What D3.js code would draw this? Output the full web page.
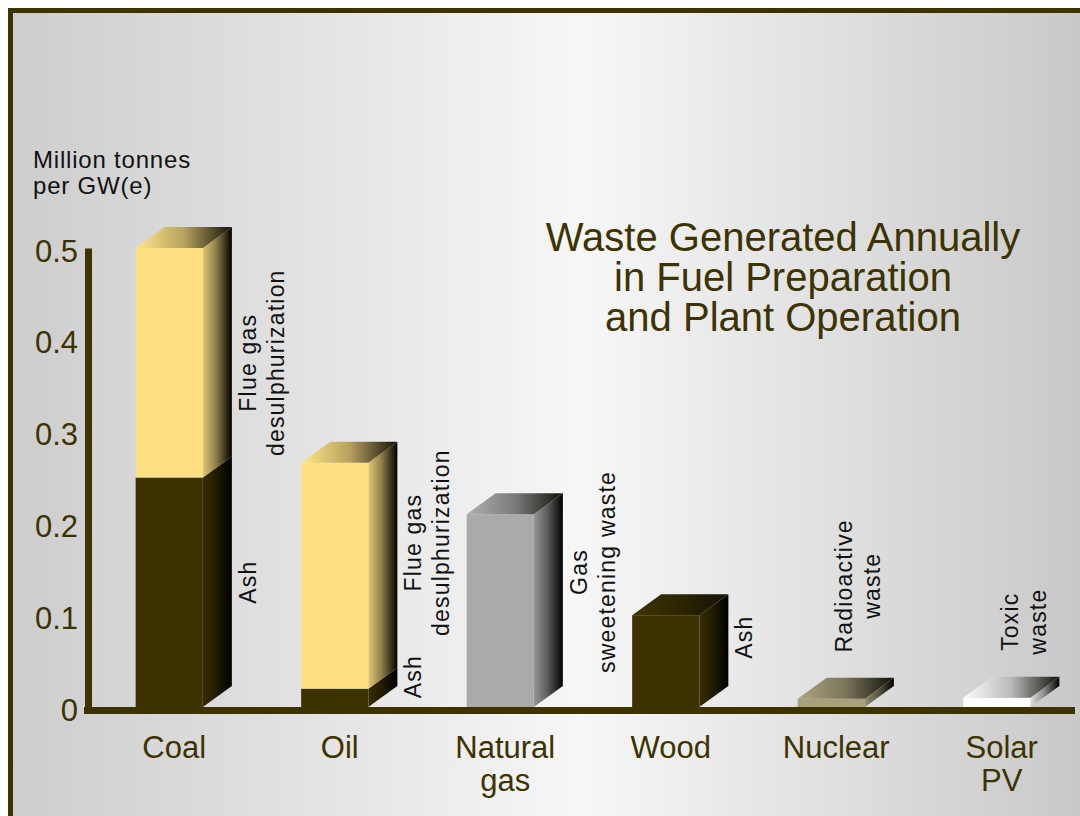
<!DOCTYPE html>
<html>
<head>
<meta charset="utf-8">
<script src="https://cdn.jsdelivr.net/npm/d3@7"></script>
<style>
  html, body { margin: 0; padding: 0; background: #fff; }
  svg { display: block; font-family: "Liberation Sans", Arial, sans-serif; }
</style>
</head>
<body>
<svg id="chart" width="1080" height="816"></svg>
<script>
// values, million tonnes per GW(e)
const categories = ["Coal", "Oil", "Natural gas", "Wood", "Nuclear", "Solar PV"];
const categoryLines = [["Coal"], ["Oil"], ["Natural", "gas"], ["Wood"], ["Nuclear"], ["Solar", "PV"]];
const ash = [0.25, 0.02, 0, 0.10, 0, 0];
const flueGas = [0.25, 0.246, 0, 0, 0, 0];
const sweetening = [0, 0, 0.21, 0, 0, 0];
const radioactive = [0, 0, 0, 0, 0.009, 0];
const toxic = [0, 0, 0, 0, 0, 0.01];
const yTicks = [0, 0.1, 0.2, 0.3, 0.4, 0.5];
const tickLabels = ["0", "0.1", "0.2", "0.3", "0.4", "0.5"];
const titleLines = ["Waste Generated Annually", "in Fuel Preparation", "and Plant Operation"];
const unitLines = ["Million tonnes", "per GW(e)"];

// rotated notes next to the bars: category, text lines, value at which they are centred
const noteCategory = ["Coal", "Coal", "Oil", "Oil", "Natural gas", "Wood", "Nuclear", "Solar PV"];
const noteLines = [["Flue gas", "desulphurization"], ["Ash"], ["Flue gas", "desulphurization"], ["Ash"],
                   ["Gas", "sweetening waste"], ["Ash"], ["Radioactive", "waste"], ["Toxic", "waste"]];
const noteAt = [0.375, 0.136, 0.179, 0.033, 0.147, 0.076, 0.132, 0.093];
const noteAbove = [false, false, false, false, false, false, true, true];

const keys = ["ash", "flueGas", "sweetening", "radioactive", "toxic"];
const colors = {ash: "#3d3300", flueGas: "#fee083", sweetening: "#aaaaaa", radioactive: "#a8a07c", toxic: "#ffffff"};
const olive = "#3d3300";

const rows = categories.map((c, i) => ({
    category: c, ash: ash[i], flueGas: flueGas[i], sweetening: sweetening[i],
    radioactive: radioactive[i], toxic: toxic[i]
}));

const svg = d3.select("#chart");
const defs = svg.append("defs");

// background
const bg = defs.append("linearGradient").attr("id", "bg");
bg.append("stop").attr("offset", 0).attr("stop-color", "#cdcdcd");
bg.append("stop").attr("offset", 0.52).attr("stop-color", "#f7f7f7");
bg.append("stop").attr("offset", 1).attr("stop-color", "#c6c6c6");

svg.append("rect")
    .attr("x", 10.5).attr("y", 10.5)
    .attr("width", 1100).attr("height", 900)
    .attr("fill", "url(#bg)")
    .attr("stroke", olive).attr("stroke-width", 5);

keys.forEach(k => {
    const c = d3.color(colors[k]);
    const side = defs.append("linearGradient").attr("id", "side-" + k);
    side.append("stop").attr("offset", 0).attr("stop-color", c.darker(0.35));
    side.append("stop").attr("offset", 0.45).attr("stop-color", c.darker(1.6));
    side.append("stop").attr("offset", 1).attr("stop-color", "#000");
    const top = defs.append("linearGradient").attr("id", "top-" + k);
    top.append("stop").attr("offset", 0).attr("stop-color", c.brighter(0.1));
    top.append("stop").attr("offset", 0.5).attr("stop-color", c.darker(0.9));
    top.append("stop").attr("offset", 1).attr("stop-color", "#141208");
});

const x = d3.scaleBand()
    .domain(categories)
    .range([86, 1080])
    .paddingInner(0.594)
    .paddingOuter(0.3);

const y = d3.scaleLinear()
    .domain([0, 0.5])
    .range([707, 248]);

const dx = 29, dy = 21;
const bw = x.bandwidth();

const series = d3.stack().keys(keys)(rows);
const tops = categories.map(c => {
    let k = null;
    series.forEach(s => { const d = s.find(e => e.data.category == c); if (d[1] > d[0]) k = s.key; });
    return k;
});

const bars = svg.append("g");
series.forEach(s => {
    s.forEach(d => {
        if (d[1] <= d[0]) return;
        const x0 = x(d.data.category), x1 = x0 + bw;
        const yb = y(d[0]), yt = y(d[1]);
        const g = bars.append("g");
        g.append("polygon")
            .attr("points", [[x1, yt], [x1 + dx, yt - dy], [x1 + dx, yb - dy], [x1, yb]].join(" "))
            .attr("fill", "url(#side-" + s.key + ")");
        g.append("rect")
            .attr("x", x0).attr("y", yt)
            .attr("width", bw).attr("height", yb - yt)
            .attr("fill", colors[s.key]);
        if (tops[categories.indexOf(d.data.category)] == s.key) {
            g.append("polygon")
                .attr("points", [[x0, yt], [x0 + dx, yt - dy], [x1 + dx, yt - dy], [x1, yt]].join(" "))
                .attr("fill", "url(#top-" + s.key + ")");
        }
    });
});

// axes
const yAxis = svg.append("g")
    .attr("transform", "translate(88,0)")
    .call(d3.axisLeft(y).tickValues(yTicks).tickSize(0).tickPadding(10)
        .tickFormat((d, i) => tickLabels[i]));
yAxis.select(".domain").attr("stroke", olive).attr("stroke-width", 7);
yAxis.selectAll("text")
    .attr("fill", olive)
    .attr("font-size", 31)
    .attr("font-family", "Liberation Sans, Arial, sans-serif")
    .attr("dy", "0.42em");

svg.append("line")
    .attr("x1", 84).attr("x2", 1075)
    .attr("y1", y(0) + 3.5).attr("y2", y(0) + 3.5)
    .attr("stroke", olive).attr("stroke-width", 7);

// category labels
categories.forEach((c, i) => {
    const t = svg.append("text")
        .attr("x", x(c) + bw / 2 + 5).attr("y", 758)
        .attr("text-anchor", "middle")
        .attr("font-size", 31)
        .attr("fill", olive);
    categoryLines[i].forEach((line, j) => {
        t.append("tspan").attr("x", x(c) + bw / 2 + 5).attr("dy", j == 0 ? 0 : 33).text(line);
    });
});

// notes
noteCategory.forEach((c, i) => {
    const bx = noteAbove[i] ? x(c) + bw / 2 + 21 : x(c) + bw + dx + 24;
    const t = svg.append("text")
        .attr("transform", `translate(${bx},${y(noteAt[i])}) rotate(-90)`)
        .attr("text-anchor", "middle")
        .attr("font-size", 23)
        .attr("letter-spacing", 1.2)
        .attr("fill", "#111");
    noteLines[i].forEach((line, j) => {
        t.append("tspan").attr("x", 0).attr("dy", j == 0 ? 0 : 28).text(line);
    });
});

// unit label
const unit = svg.append("text")
    .attr("x", 33).attr("y", 168)
    .attr("font-size", 24)
    .attr("letter-spacing", 0.8)
    .attr("fill", "#111");
unitLines.forEach((line, j) => {
    unit.append("tspan").attr("x", 33).attr("dy", j == 0 ? 0 : 26).text(line);
});

// title
const title = svg.append("text")
    .attr("x", 783).attr("y", 251)
    .attr("text-anchor", "middle")
    .attr("font-size", 40)
    .attr("fill", olive);
titleLines.forEach((line, j) => {
    title.append("tspan").attr("x", 783).attr("dy", j == 0 ? 0 : 40).text(line);
});
</script>
</body>
</html>
